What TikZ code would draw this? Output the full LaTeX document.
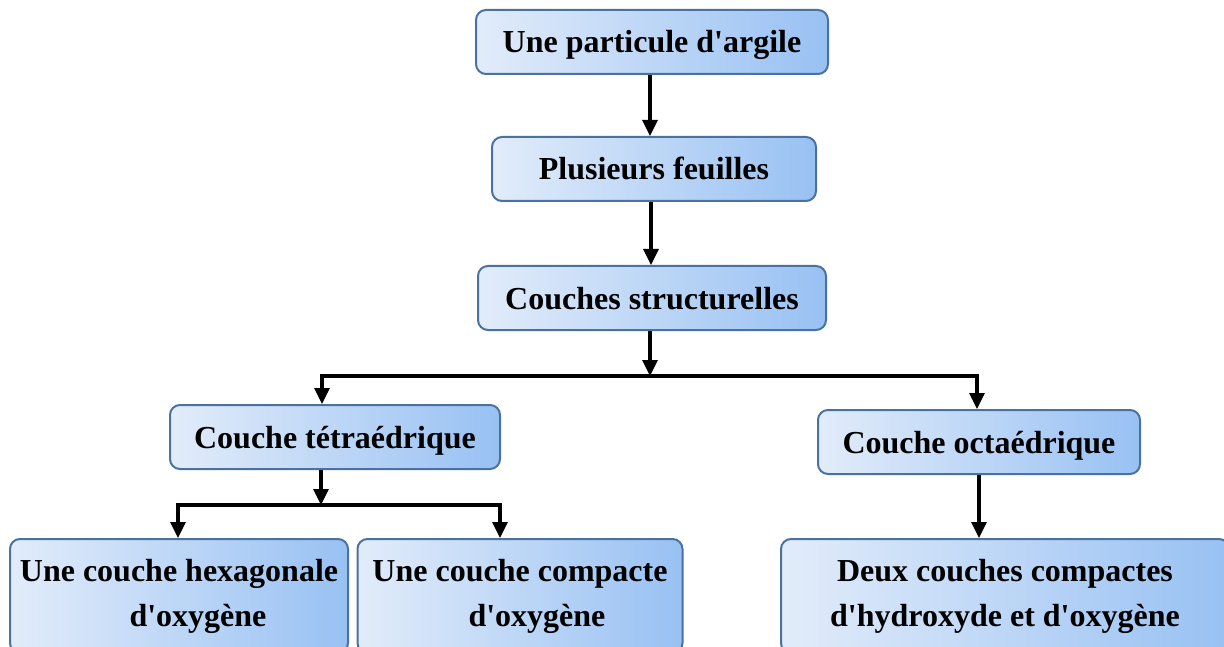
\documentclass[tikz,border=0pt]{standalone}
\usepackage{fontspec}
\setmainfont{Liberation Serif}
\usetikzlibrary{arrows.meta}
\definecolor{boxL}{RGB}{226,236,250}
\definecolor{boxR}{RGB}{152,193,243}
\definecolor{boxB}{RGB}{74,114,160}
\newcommand{\ap}{\textquotesingle}
\begin{document}
\begin{tikzpicture}[x=1pt,y=-1pt,
  box/.style={draw=boxB, line width=2pt, rounded corners=10pt, left color=boxL, right color=boxR,
    font=\fontsize{32}{41}\selectfont\bfseries, align=center, inner sep=0pt},
  onebox/.style={box, minimum height=64pt, text height=22pt, text depth=0pt},
  twobox/.style={box, minimum height=114pt},
  tip/.tip={Triangle[length=16pt,width=15pt]},
  conn/.style={line width=3.2pt, -tip},
  fork/.style={line width=3.2pt, tip-tip}]
\useasboundingbox (0,0) rectangle (1224,647);
\clip (0,0) rectangle (1224,647);
\node[onebox, minimum width=352pt] (n1) at (652,42) {Une particule d\ap argile};
\node[onebox, minimum width=324pt] (n2) at (654,169) {Plusieurs feuilles};
\node[onebox, minimum width=348pt] (n3) at (652,298) {Couches structurelles};
\node[onebox, minimum width=330pt] (n4) at (335,437) {Couche tétraédrique};
\node[onebox, minimum width=322pt] (n5) at (979,442) {Couche octaédrique};
\node[twobox, minimum width=338pt] (n6) at (179,596) {Une couche hexagonale\\[4pt]\hspace*{38pt}d\ap oxygène};
\node[twobox, minimum width=325pt] (n7) at (520,596) {Une couche compacte\\[4pt]\hspace*{34pt}d\ap oxygène};
\node[twobox, minimum width=448pt] (n8) at (1005,596) {Deux couches compactes\\[4pt]d\ap hydroxyde et d\ap oxygène};
\coordinate (a1) at (650,0);
\coordinate (a2) at (651,0);
\draw[conn] (n1.south -| a1) -- (n2.north -| a1);
\draw[conn] (n2.south -| a2) -- (n3.north -| a2);
\coordinate (j1) at (650,376);
\coordinate (bl) at (322,376);
\coordinate (br) at (977,376);
\draw[conn] (n3.south -| j1) -- (j1);
\draw[fork] (n4.north -| bl) -- (bl) -- (br) -- (n5.north -| br);
\coordinate (j2) at (321,505);
\coordinate (cl) at (178,505);
\coordinate (cr) at (500,505);
\draw[conn] (n4.south -| j2) -- (j2);
\draw[fork] (n6.north -| cl) -- (cl) -- (cr) -- (n7.north -| cr);
\coordinate (a3) at (979,0);
\draw[conn] (n5.south -| a3) -- (n8.north -| a3);
\end{tikzpicture}
\end{document}
